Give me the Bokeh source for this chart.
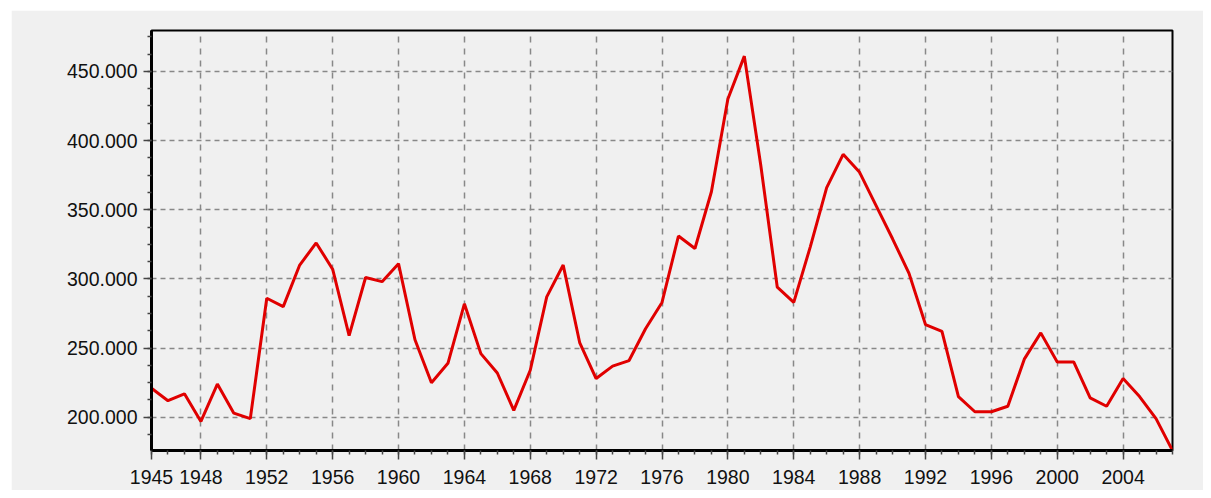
import numpy as np
from bokeh.plotting import figure
from bokeh.layouts import column, row
from bokeh.models import FixedTicker, PrintfTickFormatter, Range1d, Spacer
from bokeh.embed import file_html
from bokeh.resources import INLINE

# ---- data ----
years = list(range(1945, 2008))
values = [221, 212, 217, 197, 224, 203, 199, 286, 280, 310, 326, 307, 259, 301, 298, 311,
          256, 225, 239, 282, 246, 232, 205, 234, 287, 310, 254, 228, 237, 241, 264, 283,
          331, 322, 363, 430, 461, 382, 294, 283, 323, 366, 390, 377, 353, 329, 304, 267,
          262, 215, 204, 204, 208, 242, 261, 240, 240, 214, 208, 228, 215, 199, 176]
x_tick_years = [1945, 1948, 1952, 1956, 1960, 1964, 1968, 1972, 1976, 1980, 1984, 1988,
                1992, 1996, 2000, 2004]
y_tick_values = [200, 250, 300, 350, 400, 450]

BG = "#f0f0f0"
FONT = "Liberation Sans"

p = figure(width=1192, height=480, output_backend="svg", toolbar_location=None,
           x_range=Range1d(1945, 2007), y_range=Range1d(176, 479.5),
           min_border_left=140, min_border_right=31, min_border_top=20, min_border_bottom=40,
           background_fill_color=BG, border_fill_color=BG)

p.line(years, values, line_color="#e00000", line_width=3)

p.outline_line_color = "black"
p.outline_line_width = 2

# axes
p.xaxis.ticker = FixedTicker(ticks=x_tick_years, minor_ticks=list(range(1945, 2008)))
p.yaxis.ticker = FixedTicker(ticks=y_tick_values,
                             minor_ticks=list(np.arange(175, 480.1, 12.5)))
p.yaxis.formatter = PrintfTickFormatter(format="%.3f")

for ax in (p.xaxis[0], p.yaxis[0]):
    ax.axis_line_color = "black"
    ax.axis_line_width = 3
    ax.major_tick_line_color = "#444444"
    ax.minor_tick_line_color = "#444444"
    ax.major_tick_line_width = 1.5
    ax.minor_tick_line_width = 1.5
    ax.major_tick_in = 0
    ax.minor_tick_in = 0
    ax.minor_tick_out = 4
    ax.major_label_text_font = FONT
    ax.major_label_text_font_size = "19.5px"
    ax.major_label_text_color = "#111111"

p.xaxis.major_tick_out = 9
p.xaxis.major_label_standoff = 10
p.yaxis.major_tick_out = 8
p.yaxis.major_label_standoff = 6

# grid
p.xgrid.grid_line_color = "#888888"
p.xgrid.grid_line_dash = "6 6"
p.xgrid.grid_line_width = 1.5
p.ygrid.grid_line_color = "#888888"
p.ygrid.grid_line_dash = "5 4"
p.ygrid.grid_line_width = 1.5

layout = column(Spacer(width=1203, height=10),
                row(Spacer(width=11, height=480), p))

open("out.html", "w").write(file_html(layout, INLINE))
